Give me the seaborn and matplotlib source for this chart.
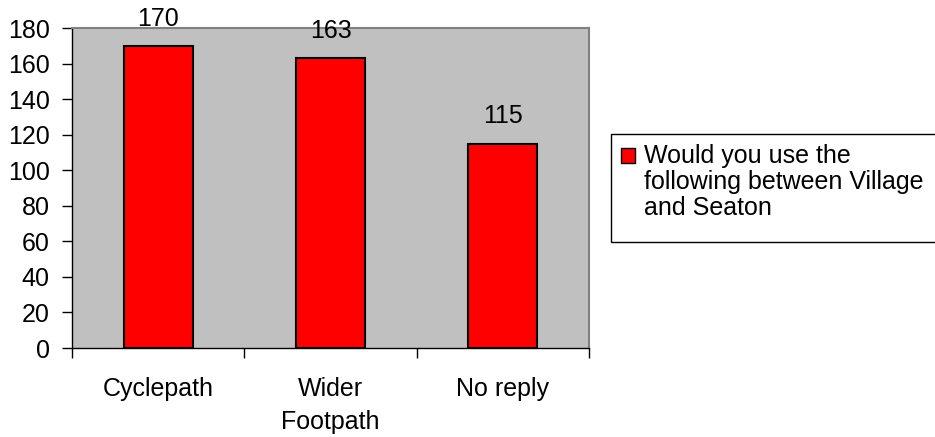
import matplotlib
matplotlib.use("Agg")
import matplotlib.pyplot as plt
import seaborn as sns
import pandas as pd
from matplotlib.patches import Patch, Rectangle
from matplotlib.legend_handler import HandlerPatch

categories = ["Cyclepath", "Wider\nFootpath", "No reply"]
values = [170, 163, 115]
series_name = "Would you use the\nfollowing between Village\nand Seaton"
y_ticks = [0, 20, 40, 60, 80, 100, 120, 140, 160, 180]

FS = 18
W, H = 935, 437


class FirstLineHandler(HandlerPatch):
    """Place the legend swatch beside the first line of a multi-line label."""

    def __init__(self, lift, **kw):
        super().__init__(**kw)
        self.lift = lift

    def create_artists(self, legend, orig_handle, xdescent, ydescent,
                       width, height, fontsize, trans):
        rect = Rectangle((-xdescent, -ydescent + self.lift), width, height)
        self.update_prop(rect, orig_handle, legend)
        rect.set_transform(trans)
        return [rect]


sns.set_style("white")
plt.rcParams["font.family"] = ["Liberation Sans", "DejaVu Sans"]
plt.rcParams["font.size"] = FS
plt.rcParams["text.color"] = "black"
plt.rcParams["xtick.color"] = "black"
plt.rcParams["ytick.color"] = "black"
plt.rcParams["xtick.labelcolor"] = "black"
plt.rcParams["ytick.labelcolor"] = "black"

df = pd.DataFrame({"category": categories, "count": values})

fig = plt.figure(figsize=(W / 100, H / 100), dpi=100)
ax = fig.add_axes([72 / W, 89 / H, (589 - 72) / W, (348 - 28) / H])
ax.set_facecolor("#C0C0C0")

sns.barplot(data=df, x="category", y="count", color="#FF0000", saturation=1,
            edgecolor="black", linewidth=1.5, width=0.4, ax=ax)

ax.bar_label(ax.containers[0], labels=[str(v) for v in values], padding=11,
             fontsize=FS, color="black", clip_on=False)

ax.set_ylim(0, 180)
ax.set_xlim(-0.5, 2.5)
ax.set_yticks(y_ticks)
ax.set_yticklabels([str(t) for t in y_ticks], fontsize=FS, color="black")
ax.tick_params(axis="y", direction="out", length=7, width=1, color="black", pad=9, left=True)

# category labels centred under the bars, tick marks at the category boundaries
ax.set_xticks([-0.5, 0.5, 1.5, 2.5])
ax.set_xticklabels([])
ax.set_xticks([0, 1, 2], minor=True)
ax.set_xticklabels(categories, minor=True, fontsize=FS, linespacing=1.45, color="black")
ax.tick_params(axis="x", which="major", direction="out", length=7, width=1, color="black", bottom=True)
ax.tick_params(axis="x", which="minor", length=0, pad=21)
ax.set_xlabel("")
ax.set_ylabel("")

for side in ("left", "bottom"):
    ax.spines[side].set_color("black")
    ax.spines[side].set_linewidth(1)
for side in ("top", "right"):
    ax.spines[side].set_color("#808080")
    ax.spines[side].set_linewidth(1.5)

# legend frame
fig.patches.append(Rectangle((611 / W, 1 - 242 / H), (W + 10 - 611) / W, (242 - 134) / H,
                             transform=fig.transFigure, facecolor="white",
                             edgecolor="black", linewidth=1, zorder=0))

handle = Patch(facecolor="#FF0000", edgecolor="black", linewidth=1)
leg = fig.legend(handles=[handle], labels=[series_name], loc="upper left",
                 bbox_to_anchor=(611 / W, 1 - 134 / H),
                 bbox_transform=fig.transFigure,
                 borderaxespad=0, frameon=False, fontsize=FS,
                 handlelength=0.55, handleheight=0.55, handletextpad=0.35,
                 borderpad=0.4, labelspacing=0.2,
                 handler_map={Patch: FirstLineHandler(lift=19.5)})
leg.get_texts()[0].set_linespacing(1.1)
leg.get_texts()[0].set_color("black")

fig.savefig("out.png", dpi=100)
